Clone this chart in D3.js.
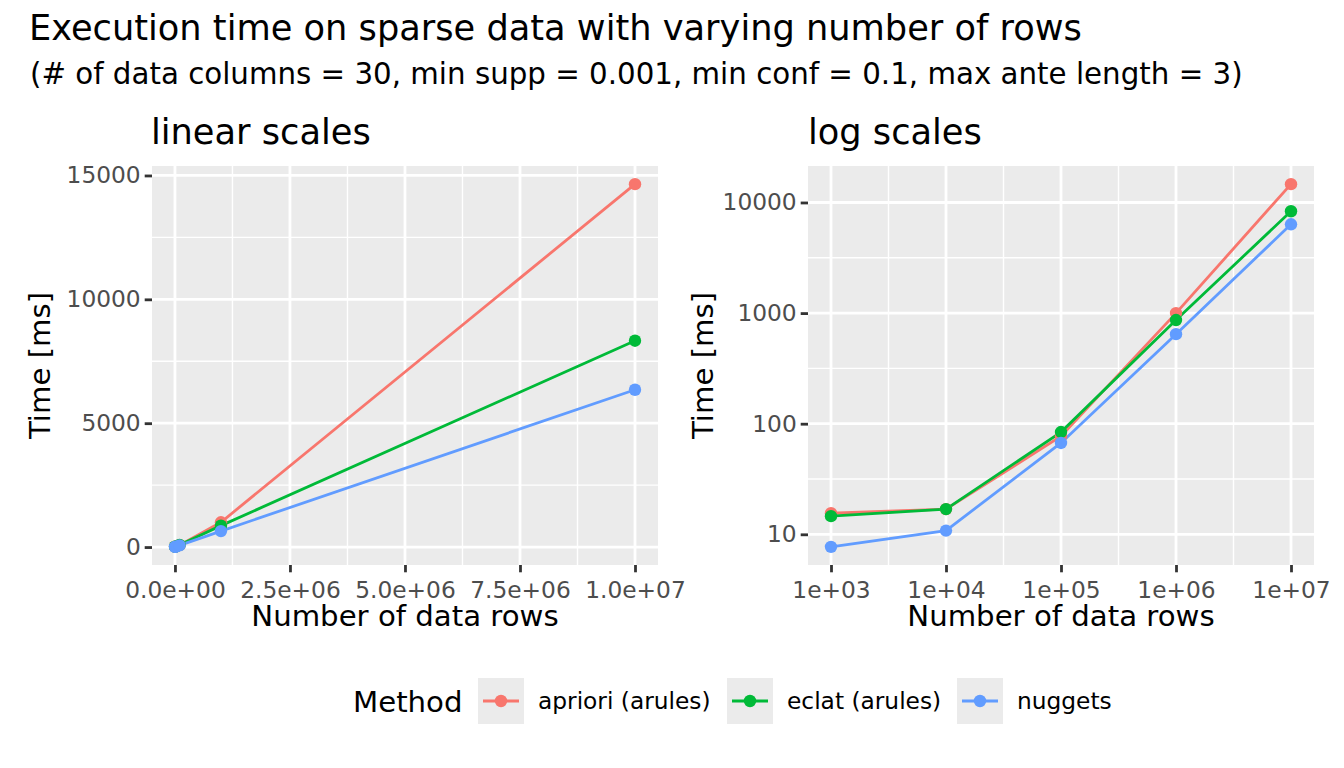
<!DOCTYPE html>
<html><head><meta charset="utf-8">
<script src="https://cdn.jsdelivr.net/npm/d3@7"></script>
<style>
html,body{margin:0;padding:0;background:#fff;}
text{font-family:"DejaVu Sans",sans-serif;}
</style></head>
<body><svg id="c" width="1344" height="768"></svg>
<script>
// ---- data ----
const rows = [1e3, 1e4, 1e5, 1e6, 1e7];
const methods = ["apriori (arules)", "eclat (arules)", "nuggets"];
const aprioriTime = [15.5, 16.9, 77, 1000, 14650];
const eclatTime = [14.6, 16.9, 84, 865, 8330];
const nuggetsTime = [7.7, 10.8, 67, 645, 6350];
const colors = ["#F8766D", "#00BA38", "#619CFF"];
const linXTicks = [0, 2.5e6, 5e6, 7.5e6, 1e7];
const linXLabels = ["0.0e+00", "2.5e+06", "5.0e+06", "7.5e+06", "1.0e+07"];
const linYTicks = [0, 5000, 10000, 15000];
const linYLabels = ["0", "5000", "10000", "15000"];
const logXTicks = [1e3, 1e4, 1e5, 1e6, 1e7];
const logXLabels = ["1e+03", "1e+04", "1e+05", "1e+06", "1e+07"];
const logYTicks = [10, 100, 1000, 10000];
const logYLabels = ["10", "100", "1000", "10000"];
const titleText = "Execution time on sparse data with varying number of rows";
const subtitleText = "(# of data columns = 30, min supp = 0.001, min conf = 0.1, max ante length = 3)";

const series = methods.map((m, i) => ({
  name: m, color: colors[i],
  values: rows.map((r, j) => ({x: r, y: [aprioriTime, eclatTime, nuggetsTime][i][j]}))
}));

const svg = d3.select("#c");
const allY = series.flatMap(s => s.values.map(v => v.y));
const yMin = d3.min(allY), yMax = d3.max(allY);
const xMin = d3.min(rows), xMax = d3.max(rows);

function expand(a, b) { const d = (b - a) * 0.05; return [a - d, b + d]; }

svg.append("text").attr("x", 29).attr("y", 40).attr("font-size", 35.2).attr("fill", "#000").text(titleText);
svg.append("text").attr("x", 30).attr("y", 84).attr("font-size", 29.3).attr("fill", "#000").text(subtitleText);

function panel(opts) {
  const {left, right, top, bottom, log, title, xTicks, xLabels, yTicks, yLabels, xMinor, yMinor} = opts;
  let x, y;
  if (log) {
    const xd = expand(Math.log10(xMin), Math.log10(xMax));
    const yd = expand(Math.log10(yMin), Math.log10(yMax));
    x = d3.scaleLog().domain([10 ** xd[0], 10 ** xd[1]]).range([left, right]);
    y = d3.scaleLog().domain([10 ** yd[0], 10 ** yd[1]]).range([bottom, top]);
  } else {
    x = d3.scaleLinear().domain(expand(xMin, xMax)).range([left, right]);
    y = d3.scaleLinear().domain(expand(yMin, yMax)).range([bottom, top]);
  }
  const g = svg.append("g");
  g.append("rect").attr("x", left).attr("y", top).attr("width", right - left).attr("height", bottom - top).attr("fill", "#EBEBEB");
  // minor grid
  g.selectAll(".mnx").data(xMinor).join("line")
    .attr("x1", d => x(d)).attr("x2", d => x(d)).attr("y1", top).attr("y2", bottom)
    .attr("stroke", "#fff").attr("stroke-width", 1.4);
  g.selectAll(".mny").data(yMinor).join("line")
    .attr("y1", d => y(d)).attr("y2", d => y(d)).attr("x1", left).attr("x2", right)
    .attr("stroke", "#fff").attr("stroke-width", 1.4);
  // major grid
  g.selectAll(".mjx").data(xTicks).join("line")
    .attr("x1", d => x(d)).attr("x2", d => x(d)).attr("y1", top).attr("y2", bottom)
    .attr("stroke", "#fff").attr("stroke-width", 2.8);
  g.selectAll(".mjy").data(yTicks).join("line")
    .attr("y1", d => y(d)).attr("y2", d => y(d)).attr("x1", left).attr("x2", right)
    .attr("stroke", "#fff").attr("stroke-width", 2.8);

  // axes
  const xa = svg.append("g").attr("transform", `translate(0,${bottom})`)
    .call(d3.axisBottom(x).tickValues(xTicks).tickFormat((d, i) => xLabels[i]).tickSize(7.3).tickPadding(4));
  const ya = svg.append("g").attr("transform", `translate(${left},0)`)
    .call(d3.axisLeft(y).tickValues(yTicks).tickFormat((d, i) => yLabels[i]).tickSize(7.3).tickPadding(4));
  [xa, ya].forEach(a => {
    a.select(".domain").remove();
    a.selectAll(".tick line").attr("stroke", "#333333").attr("stroke-width", 2.8);
    a.selectAll(".tick text").attr("fill", "#4D4D4D").attr("font-size", 23.3).attr("font-family", "DejaVu Sans");
  });
  xa.selectAll(".tick text").attr("dy", "0.95em");

  // lines & points
  const line = d3.line().x(d => x(d.x)).y(d => y(d.y));
  series.forEach(s => {
    g.append("path").datum(s.values).attr("d", line).attr("fill", "none")
      .attr("stroke", s.color).attr("stroke-width", 2.8);
  });
  series.forEach(s => {
    g.selectAll(null).data(s.values).join("circle")
      .attr("cx", d => x(d.x)).attr("cy", d => y(d.y)).attr("r", 6.2).attr("fill", s.color);
  });

  // titles
  svg.append("text").attr("x", left + opts.tdx).attr("y", 144).attr("font-size", 35.2).text(title);
  svg.append("text").attr("x", (left + right) / 2).attr("y", 626).attr("font-size", 29.2)
    .attr("text-anchor", "middle").text("Number of data rows");
  svg.append("text").attr("transform", `translate(${opts.ytx},${(top + bottom) / 2}) rotate(-90)`)
    .attr("font-size", 29.2).attr("text-anchor", "middle").text("Time [ms]");
}

panel({left: 152, right: 658, top: 166, bottom: 565, log: false, title: "linear scales", tdx: -1,
  xTicks: linXTicks, xLabels: linXLabels, yTicks: linYTicks, yLabels: linYLabels,
  xMinor: [1.25e6, 3.75e6, 6.25e6, 8.75e6], yMinor: [2500, 7500, 12500], ytx: 50});
panel({left: 808, right: 1314, top: 166, bottom: 565, log: true, title: "log scales", tdx: 0,
  xTicks: logXTicks, xLabels: logXLabels, yTicks: logYTicks, yLabels: logYLabels,
  xMinor: [10 ** 3.5, 10 ** 4.5, 10 ** 5.5, 10 ** 6.5], yMinor: [10 ** 1.5, 10 ** 2.5, 10 ** 3.5], ytx: 713});

// legend
const lg = svg.append("g");
lg.append("text").attr("x", 353).attr("y", 712).attr("font-size", 29.2).text("Method");
const keyX = [478, 727, 957];
series.forEach((s, i) => {
  const kx = keyX[i];
  lg.append("rect").attr("x", kx).attr("y", 678).attr("width", 46).attr("height", 46).attr("fill", "#EBEBEB");
  lg.append("line").attr("x1", kx + 5).attr("x2", kx + 41).attr("y1", 701).attr("y2", 701)
    .attr("stroke", s.color).attr("stroke-width", 2.8);
  lg.append("circle").attr("cx", kx + 23).attr("cy", 701).attr("r", 6.2).attr("fill", s.color);
  lg.append("text").attr("x", kx + 60).attr("y", 709).attr("font-size", 23.3).text(s.name);
});
</script></body></html>
